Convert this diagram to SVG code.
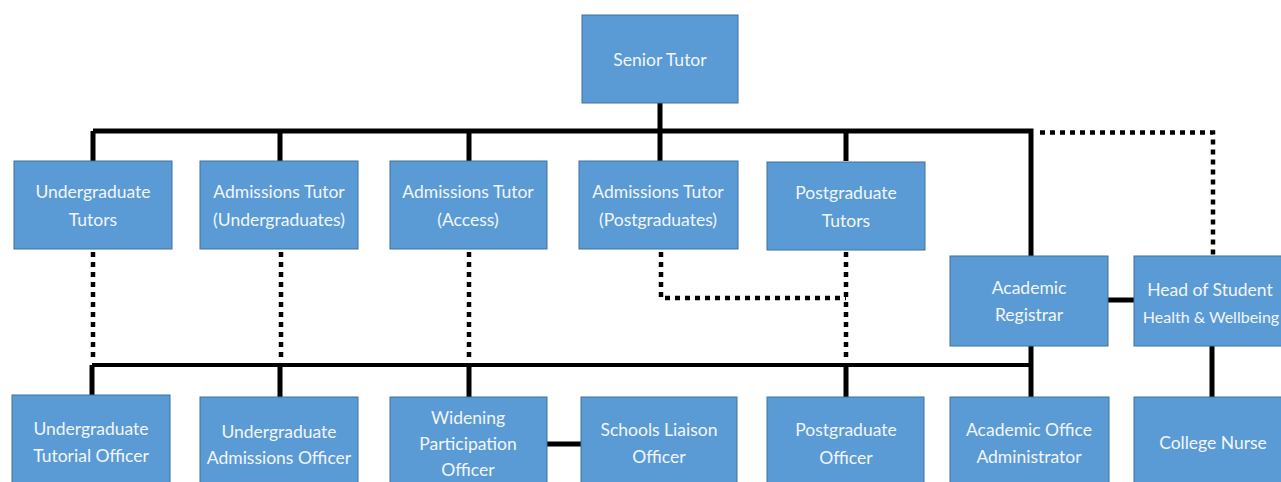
<svg xmlns="http://www.w3.org/2000/svg" width="1281" height="482" viewBox="0 0 1281 482">
<style>
.box{fill:#5B9BD5;stroke:#41719C;stroke-width:1}
.t{font-family:Lato,"Liberation Sans",sans-serif;font-size:17.5px;fill:#F2F6FA;text-anchor:middle}
.solid{stroke:#000;stroke-width:5;fill:none}
.thin{stroke:#000;stroke-width:4;fill:none}
.dot{stroke:#000;stroke-width:4.5;fill:none;stroke-dasharray:5 5}
</style>
<rect width="1281" height="482" fill="#fff"/>
<g id="connectors">
<path class="solid" d="M660 103V161M93 131H1031V256M93 131V161M280 131V161M469 131V161M846 131V161"/>
<path class="dot" d="M1040 132.5H1213V256"/>
<path class="solid" d="M1108 300H1134M1031 346V397M1212 346V397"/>
<path class="thin" d="M92 365H1031"/>
<path class="solid" d="M92 365V395M280 365V397M469 365V397M846 365V397M547 444H581"/>
<path class="dot" d="M93 252V362M281 252V362M469 252V362M846 252V362M661 252V298H846"/>
</g>
<g id="senior-tutor"><rect class="box" x="582" y="15" width="156" height="88"/><text class="t" x="660" y="66">Senior Tutor</text></g>
<g id="ug-tutors"><rect class="box" x="14" y="161" width="158" height="88"/><text class="t" x="93" y="198">Undergraduate</text><text class="t" x="93" y="226">Tutors</text></g>
<g id="adm-ug"><rect class="box" x="200" y="161" width="158" height="88"/><text class="t" x="279" y="198">Admissions Tutor</text><text class="t" x="279" y="226">(Undergraduates)</text></g>
<g id="adm-access"><rect class="box" x="390" y="161" width="157" height="88"/><text class="t" x="468" y="198">Admissions Tutor</text><text class="t" x="468" y="226">(Access)</text></g>
<g id="adm-pg"><rect class="box" x="579" y="161" width="159" height="88"/><text class="t" x="658" y="198">Admissions Tutor</text><text class="t" x="658" y="226">(Postgraduates)</text></g>
<g id="pg-tutors"><rect class="box" x="767" y="162" width="158" height="88"/><text class="t" x="846" y="199">Postgraduate</text><text class="t" x="846" y="227">Tutors</text></g>
<g id="registrar"><rect class="box" x="950" y="256" width="158" height="90"/><text class="t" x="1029" y="294">Academic</text><text class="t" x="1029" y="321">Registrar</text></g>
<g id="head-health"><rect class="box" x="1134" y="256" width="160" height="90"/><text class="t" x="1210" y="296">Head of Student</text><text class="t" x="1211" y="323" style="font-size:16px">Health &amp; Wellbeing</text></g>
<g id="ug-tutorial-officer"><rect class="box" x="12" y="395" width="158" height="95"/><text class="t" x="91" y="435">Undergraduate</text><text class="t" x="91" y="462">Tutorial Officer</text></g>
<g id="ug-adm-officer"><rect class="box" x="200" y="397" width="158" height="93"/><text class="t" x="279" y="438">Undergraduate</text><text class="t" x="279" y="464">Admissions Officer</text></g>
<g id="widening"><rect class="box" x="390" y="397" width="157" height="93"/><text class="t" x="468" y="424">Widening</text><text class="t" x="468" y="450">Participation</text><text class="t" x="468" y="476">Officer</text></g>
<g id="schools-liaison"><rect class="box" x="581" y="397" width="156" height="93"/><text class="t" x="659" y="436">Schools Liaison</text><text class="t" x="659" y="463">Officer</text></g>
<g id="pg-officer"><rect class="box" x="767" y="397" width="157" height="93"/><text class="t" x="846" y="436">Postgraduate</text><text class="t" x="846" y="464">Officer</text></g>
<g id="academic-office-admin"><rect class="box" x="950" y="397" width="159" height="93"/><text class="t" x="1029" y="436">Academic Office</text><text class="t" x="1029" y="463">Administrator</text></g>
<g id="college-nurse"><rect class="box" x="1134" y="397" width="160" height="93"/><text class="t" x="1213" y="449">College Nurse</text></g>
</svg>
